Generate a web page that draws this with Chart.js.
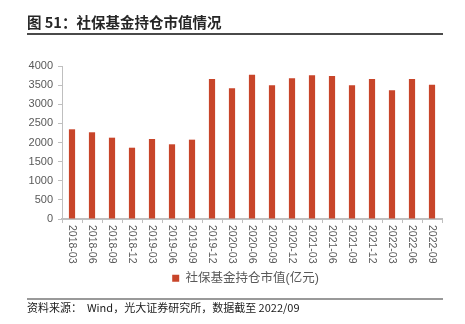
<!DOCTYPE html>
<html>
<head>
<meta charset="utf-8">
<script src="https://cdn.jsdelivr.net/npm/chart.js@4"></script>
<style>
  html, body { margin: 0; padding: 0; background: #fff; }
  #wrap { position: relative; width: 465px; height: 324px; overflow: hidden; }
  #myChart { position: absolute; left: 0; top: 0; }
  .title { position: absolute; left: 27px; top: 12px; font: bold 14.5px "Noto Sans CJK SC", sans-serif; line-height: 19px; color: #262626; white-space: nowrap; }
  .rule-top { position: absolute; left: 27px; top: 33px; width: 416px; height: 1.5px; background: #4a4a4a; }
  .rule-bottom { position: absolute; left: 27px; top: 298px; width: 416px; height: 2px; background: #999; }
  .source { position: absolute; left: 27px; top: 299px; font: 11px "Noto Sans CJK SC", sans-serif; line-height: 16px; color: #1a1a1a; white-space: pre; }
</style>
</head>
<body>
<div id="wrap">
  <canvas id="myChart" width="465" height="324"></canvas>
  <div class="title">图 51：社保基金持仓市值情况</div>
  <div class="rule-top"></div>
  <div class="rule-bottom"></div>
  <div class="source">资料来源：  Wind，光大证券研究所，数据截至 2022/09</div>
</div>
<script>
// quarter ends
const quarters = ['2018-03','2018-06','2018-09','2018-12','2019-03','2019-06','2019-09','2019-12',
  '2020-03','2020-06','2020-09','2020-12','2021-03','2021-06','2021-09','2021-12',
  '2022-03','2022-06','2022-09'];
// 社保基金持仓市值, 亿元
const holdingValue = [2345, 2267, 2126, 1864, 2092, 1953, 2074, 3660, 3416, 3773, 3495, 3678,
  3757, 3739, 3495, 3660, 3364, 3660, 3512];
const seriesName = '社保基金持仓市值(亿元)';
const yTicks = [0, 500, 1000, 1500, 2000, 2500, 3000, 3500, 4000];

const axisGray = '#bfbfbf';
const labelGray = '#595959';

// x labels read top-to-bottom, so draw them rotated clockwise
const verticalLabels = {
  id: 'verticalLabels',
  afterDraw(chart) {
    const xs = chart.scales.x;
    const c = chart.ctx;
    c.save();
    c.font = '10.5px "Liberation Sans", Arial, sans-serif';
    c.fillStyle = labelGray;
    c.textAlign = 'left';
    c.textBaseline = 'middle';
    xs.ticks.forEach((t, i) => {
      c.save();
      c.translate(xs.getPixelForTick(i), xs.top + 6);
      c.rotate(Math.PI / 2);
      c.fillText(xs.getLabelForValue(t.value), 0, 0);
      c.restore();
    });
    c.restore();
  }
};

// nudge the legend a little left of the plot centre
const legendShift = {
  id: 'legendShift',
  afterLayout(chart) {
    const lg = chart.legend;
    if (lg) { lg.left -= 6.5; lg.right -= 6.5; }
  }
};

const ctx = document.getElementById('myChart').getContext('2d');
new Chart(ctx, {
  type: 'bar',
  data: {
    labels: quarters,
    datasets: [{
      label: seriesName,
      data: holdingValue,
      backgroundColor: '#C8452A',
      borderWidth: 0,
      categoryPercentage: 1,
      barPercentage: 0.31
    }]
  },
  options: {
    responsive: false,
    animation: false,
    layout: { padding: { top: 66, right: 23, bottom: 29.5, left: 0 } },
    plugins: {
      tooltip: { enabled: false },
      legend: {
        position: 'bottom',
        fullSize: false,
        labels: {
          boxWidth: 7,
          boxHeight: 7,
          padding: 10,
          color: labelGray,
          font: { family: '"Liberation Sans", "Noto Sans CJK SC", sans-serif', size: 12.5 }
        }
      }
    },
    scales: {
      x: {
        grid: { display: true, drawOnChartArea: false, drawTicks: true, tickLength: 4, color: axisGray, offset: true },
        border: { color: axisGray, width: 2 },
        ticks: { display: false },
        afterFit(scale) { scale.height = 43; }
      },
      y: {
        min: 0,
        max: 4000,
        afterBuildTicks(scale) { scale.ticks = yTicks.map(v => ({ value: v })); },
        grid: { display: true, drawOnChartArea: false, drawTicks: true, tickLength: 4, color: axisGray },
        border: { color: axisGray, width: 1 },
        ticks: {
          color: labelGray,
          padding: 5,
          font: { family: '"Liberation Sans", Arial, sans-serif', size: 11 },
          callback: v => String(v)
        },
        afterFit(scale) { scale.width = 62; }
      }
    }
  },
  plugins: [verticalLabels, legendShift]
});
</script>
</body>
</html>
